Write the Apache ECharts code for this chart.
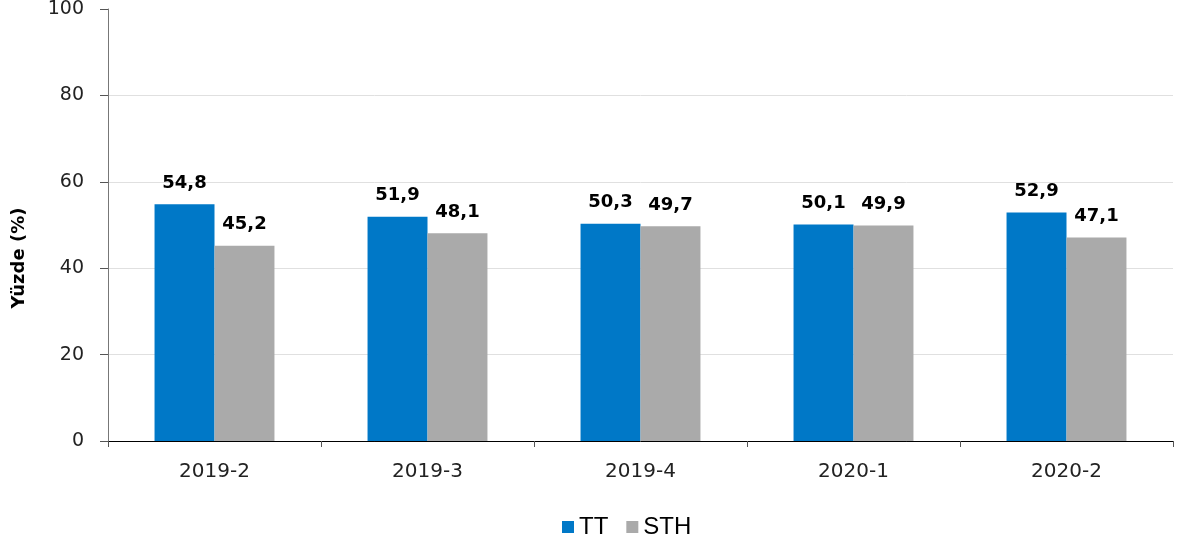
<!DOCTYPE html>
<html><head><meta charset="utf-8">
<script src="https://cdn.jsdelivr.net/npm/echarts@6/dist/echarts.min.js"></script>
<style>html,body{margin:0;padding:0;background:#fff}#c{width:1180px;height:546px}</style>
</head><body><div id="c"></div>
<script>
const categories = ['2019-2','2019-3','2019-4','2020-1','2020-2'];
const ttValues = [54.8, 51.9, 50.3, 50.1, 52.9];
const sthValues = [45.2, 48.1, 49.7, 49.9, 47.1];
const seriesNames = ['TT','STH'];
const yAxisTitle = 'Yüzde (%)';

const fmt = p => p.value.toFixed(1).replace('.', ',');
const labelStyle = {show:true, position:'top', distance:12, formatter:fmt,
  fontFamily:'DejaVu Sans', fontWeight:'bold', fontSize:18, color:'#000'};

const chart = echarts.init(document.getElementById('c'));
chart.setOption({
  animation:false,
  grid:{left:108, right:7, top:9, bottom:105, containLabel:false, outerBoundsMode:'none'},
  legend:{bottom:2, left:557, itemWidth:12, itemHeight:12, itemGap:18,
    icon:'rect', textStyle:{fontFamily:'Liberation Sans', fontSize:24, color:'#000'},
    data:seriesNames},
  xAxis:{type:'category', data:categories,
    axisLine:{lineStyle:{color:'#000', width:1}},
    axisTick:{show:true, length:6, alignWithLabel:false, lineStyle:{color:'#555'}},
    axisLabel:{fontFamily:'DejaVu Sans', fontSize:20, color:'#222', margin:21}},
  yAxis:{type:'value', min:0, max:100, interval:20,
    name:yAxisTitle, nameLocation:'middle', nameGap:80, nameRotate:90,
    nameTextStyle:{fontFamily:'DejaVu Sans', fontWeight:'bold', fontSize:18, color:'#000', padding:[0,0,0,-66]},
    axisLine:{show:true, lineStyle:{color:'#777'}},
    axisTick:{show:true, length:8, lineStyle:{color:'#555'}},
    axisLabel:{fontFamily:'DejaVu Sans', fontSize:19, color:'#222', margin:24},
    splitLine:{show:true, showMaxLine:false, lineStyle:{color:'#e0e0e0'}}},
  series:[
    {name:seriesNames[0], type:'bar', data:ttValues, barGap:'0%', barCategoryGap:'43.7%',
     itemStyle:{color:'#0078c7'}, label:labelStyle},
    {name:seriesNames[1], type:'bar', data:sthValues,
     itemStyle:{color:'#aaaaaa'}, label:labelStyle}
  ]
});
</script></body></html>
